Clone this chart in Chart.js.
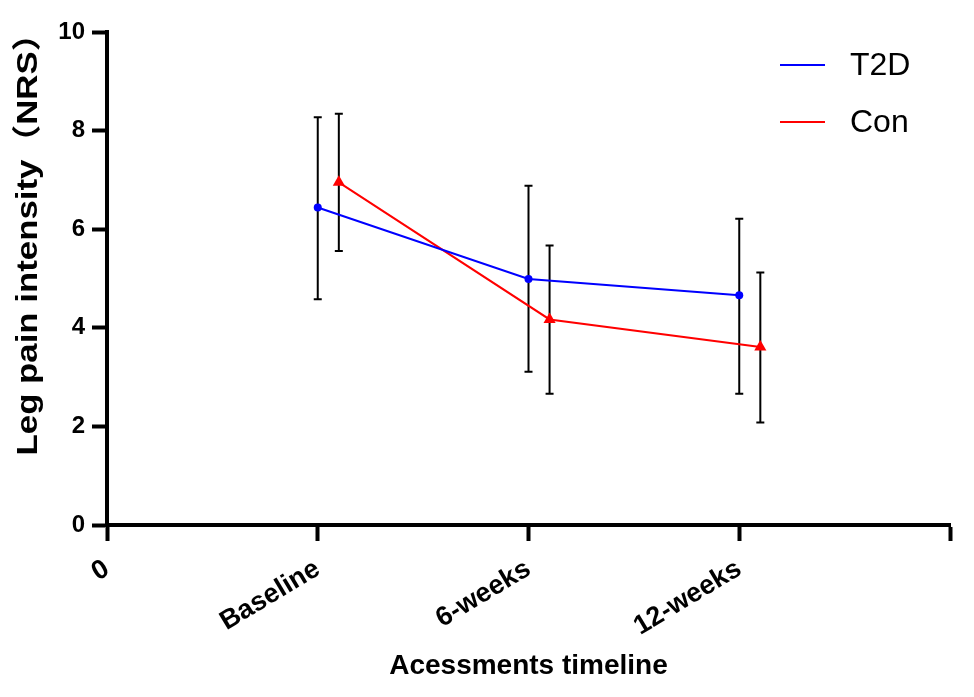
<!DOCTYPE html>
<html>
<head>
<meta charset="utf-8">
<script src="https://cdn.jsdelivr.net/npm/chart.js@4.4.0/dist/chart.umd.min.js"></script>
<style>
  html, body { margin: 0; padding: 0; background: #fff; }
  #wrap { width: 974px; height: 697px; }
</style>
</head>
<body>
<div id="wrap"><canvas id="c" width="974" height="697"></canvas></div>
<script>
// ---- data ----
const categories = ['Baseline', '6-weeks', '12-weeks'];
const tickLabels = ['0', 'Baseline', '6-weeks', '12-weeks', ''];
const seriesNames = ['T2D', 'Con'];
const xT2D = [1, 2, 3];
const xCon = [1.1, 2.1, 3.1];
const t2dMean  = [6.44, 4.99, 4.66];
const t2dUpper = [8.27, 6.88, 6.21];
const t2dLower = [4.58, 3.11, 2.66];
const conMean  = [6.95, 4.17, 3.61];
const conUpper = [8.34, 5.67, 5.12];
const conLower = [5.56, 2.66, 2.08];
const yTitle = 'Leg pain intensity（NRS）';
const xTitle = 'Acessments timeline';

const FONT = '"Liberation Sans", Arial, Helvetica, "Noto Sans CJK SC", sans-serif';

function pts(xs, ys) { return xs.map((x, i) => ({ x: x, y: ys[i] })); }

const errorBars = {
  id: 'errorBars',
  beforeDatasetsDraw(chart) {
    const ctx = chart.ctx;
    const xs = chart.scales.x, ys = chart.scales.y;
    const sets = [[xT2D, t2dUpper, t2dLower], [xCon, conUpper, conLower]];
    ctx.save();
    ctx.strokeStyle = '#000';
    ctx.lineWidth = 2;
    sets.forEach(([xv, up, lo]) => {
      xv.forEach((x, i) => {
        const px = xs.getPixelForValue(x);
        const pu = ys.getPixelForValue(up[i]);
        const pl = ys.getPixelForValue(lo[i]);
        ctx.beginPath();
        ctx.moveTo(px, pu); ctx.lineTo(px, pl);
        ctx.moveTo(px - 4, pu); ctx.lineTo(px + 4, pu);
        ctx.moveTo(px - 4, pl); ctx.lineTo(px + 4, pl);
        ctx.stroke();
      });
    });
    ctx.restore();
  }
};

const extras = {
  id: 'extras',
  afterDraw(chart) {
    const ctx = chart.ctx;
    ctx.save();
    // legend
    chart.data.datasets.forEach((ds, i) => {
      const y = 65 + i * 57;
      ctx.strokeStyle = ds.borderColor;
      ctx.lineWidth = 2;
      ctx.beginPath();
      ctx.moveTo(780, y); ctx.lineTo(825, y);
      ctx.stroke();
      ctx.fillStyle = '#000';
      ctx.font = '32px ' + FONT;
      ctx.textAlign = 'left';
      ctx.textBaseline = 'middle';
      ctx.fillText(ds.label, 850, y + 1);
    });
    // y title
    ctx.translate(29, 236);
    ctx.rotate(-Math.PI / 2);
    ctx.scale(1.2, 1);
    ctx.font = 'bold 29px ' + FONT;
    ctx.textAlign = 'center';
    ctx.textBaseline = 'middle';
    ctx.fillStyle = '#000';
    ctx.fillText(yTitle, 0, 0);
    ctx.restore();
  }
};

new Chart(document.getElementById('c'), {
  type: 'scatter',
  data: {
    datasets: [
      {
        label: seriesNames[0],
        data: pts(xT2D, t2dMean),
        showLine: true,
        borderColor: '#0000ff',
        backgroundColor: '#0000ff',
        borderWidth: 2,
        pointStyle: 'circle',
        pointRadius: 4,
        pointBorderWidth: 0
      },
      {
        label: seriesNames[1],
        data: pts(xCon, conMean),
        showLine: true,
        borderColor: '#ff0000',
        backgroundColor: '#ff0000',
        borderWidth: 2,
        pointStyle: 'triangle',
        pointRadius: 7,
        pointBorderWidth: 0
      }
    ]
  },
  options: {
    responsive: false,
    animation: false,
    layout: { padding: { left: 0, right: 24, top: 32, bottom: 0 } },
    plugins: { legend: { display: false }, tooltip: { enabled: false } },
    scales: {
      x: {
        type: 'linear',
        min: 0, max: 4,
        afterFit(s) { s.height = 172; s.paddingRight = 0; },
        border: { display: true, color: '#000', width: 4 },
        grid: { display: true, drawOnChartArea: false, drawTicks: true, tickLength: 16, tickWidth: 4, tickColor: '#000' },
        ticks: {
          stepSize: 1, autoSkip: false, minRotation: 31, maxRotation: 31,
          color: '#000', padding: 12,
          font: { family: FONT, size: 27, weight: 'bold' },
          callback: (v) => tickLabels[v] !== undefined ? tickLabels[v] : ''
        },
        title: {
          display: true, text: xTitle, color: '#000',
          font: { family: FONT, size: 28, weight: 'bold' },
          padding: { top: 0, bottom: 14 }
        }
      },
      y: {
        type: 'linear',
        min: 0, max: 10,
        afterFit(s) { s.width = 107; },
        border: { display: true, color: '#000', width: 4 },
        grid: { display: true, drawOnChartArea: false, drawTicks: true, tickLength: 15, tickWidth: 4, tickColor: '#000' },
        ticks: {
          stepSize: 2, color: '#000', padding: 7,
          font: { family: FONT, size: 24, weight: 'bold' }
        }
      }
    }
  },
  plugins: [errorBars, extras]
});
</script>
</body>
</html>
